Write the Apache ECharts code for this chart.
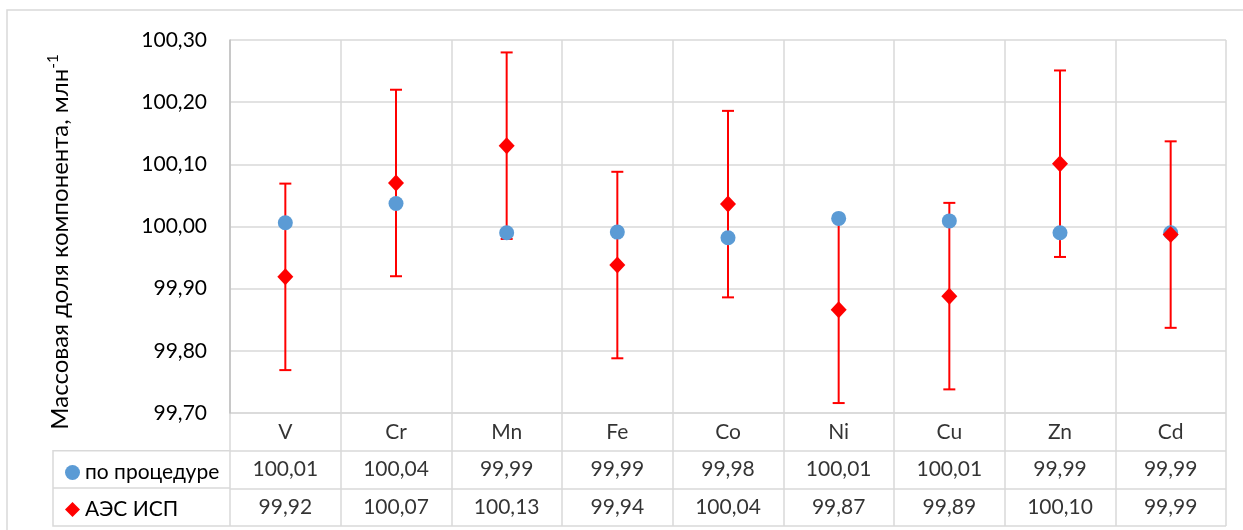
<!DOCTYPE html>
<html><head><meta charset="utf-8">
<script src="https://cdn.jsdelivr.net/npm/echarts@6/dist/echarts.min.js"></script>
<style>html,body{margin:0;padding:0;background:#fff}#c{width:1243px;height:530px}</style>
</head><body><div id="c"></div>
<script>
const categories = ['V','Cr','Mn','Fe','Co','Ni','Cu','Zn','Cd'];
const procedureValues = [100.006,100.037,99.990,99.991,99.982,100.013,100.009,99.990,99.990];
const icpValues = [99.919,100.070,100.130,99.938,100.036,99.866,99.888,100.101,99.987];
const icpErrors = [0.15,0.15,0.15,0.15,0.15,0.15,0.15,0.15,0.15];
const seriesNames = ['по процедуре','АЭС ИСП'];
const axisTitle = 'Массовая доля компонента, млн';
const axisTitleSup = '-1';
const yMin = 99.7, yMax = 100.3, yStep = 0.1;

const FONT = 'Lato';
const GRID = '#d9d9d9';
const fmt = v => v.toFixed(2).replace('.', ',');

const chart = echarts.init(document.getElementById('c'), null, {renderer:'canvas'});

const tableRows = [
  categories.map((c,i)=>[i,0.5,c]),
  procedureValues.map((v,i)=>[i,1.5,fmt(v)]),
  icpValues.map((v,i)=>[i,2.5,fmt(v)])
];

const option = {
  animation:false,
  textStyle:{fontFamily:FONT},
  grid:[
    {left:230,right:17,top:40,height:373},
    {left:230,right:17,top:413,height:113}
  ],
  xAxis:[
    {type:'category',gridIndex:0,data:categories,boundaryGap:true,
     axisLine:{show:false},axisTick:{show:false},axisLabel:{show:false},
     splitLine:{show:true,lineStyle:{color:GRID,width:1.5}}},
    {type:'category',gridIndex:1,data:categories,boundaryGap:true,
     axisLine:{show:false},axisTick:{show:false},axisLabel:{show:false},
     splitLine:{show:true,lineStyle:{color:GRID,width:1.5}}}
  ],
  yAxis:[
    {type:'value',gridIndex:0,min:yMin,max:yMax,interval:yStep,
     axisLine:{show:true,lineStyle:{color:'#bfbfbf',width:1.5}},axisTick:{show:false},
     axisLabel:{formatter:v=>fmt(v),fontSize:21,color:'#000',margin:23,fontFamily:FONT},
     splitLine:{show:true,lineStyle:{color:GRID,width:1.5}}},
    {type:'value',gridIndex:1,min:0,max:3,interval:1,inverse:true,
     axisLine:{show:false},axisTick:{show:false},axisLabel:{show:false},
     splitLine:{show:true,lineStyle:{color:GRID,width:1.5}}}
  ],
  legend:{
    orient:'vertical',left:60,top:457,itemGap:16,itemWidth:15,itemHeight:15,
    textStyle:{fontSize:21,color:'#000',fontFamily:FONT},
    data:[{name:seriesNames[0],icon:'circle'},{name:seriesNames[1],icon:'diamond'}]
  },
  graphic:[
    {type:'rect',shape:{x:7,y:10,width:1260,height:540},style:{fill:'none',stroke:GRID,lineWidth:1.5},silent:true},
    {type:'polyline',shape:{points:[[230,450.7],[53,450.7],[53,526],[230,526]]},style:{fill:'none',stroke:GRID,lineWidth:1.5},silent:true},
    {type:'line',shape:{x1:53,y1:488,x2:230,y2:488},style:{stroke:GRID,lineWidth:1.5},silent:true},
    {type:'text',x:60,y:242,rotation:Math.PI/2,
     style:{text:'{a|'+axisTitle+'}{b|'+axisTitleSup+'}',
       rich:{a:{fontSize:24,fontFamily:FONT,fill:'#000',lineHeight:28},
             b:{fontSize:15,fontFamily:FONT,fill:'#000',verticalAlign:'top',lineHeight:28,padding:[0,0,9,0]}},
       align:'center',verticalAlign:'middle'},silent:true}
  ],
  series:[
    {type:'custom',name:'err',xAxisIndex:0,yAxisIndex:0,z:1,silent:true,
     data:icpValues.map((v,i)=>[i,v-icpErrors[i],v+icpErrors[i]]),
     encode:{x:0,y:[1,2]},
     renderItem:function(params,api){
       const lo=api.coord([api.value(0),api.value(1)]);
       const hi=api.coord([api.value(0),api.value(2)]);
       const w=6;
       const st={stroke:'#ff0000',lineWidth:2};
       return {type:'group',children:[
         {type:'line',z2:0,shape:{x1:lo[0],y1:lo[1],x2:hi[0],y2:hi[1]},style:st},
         {type:'line',z2:0,shape:{x1:lo[0]-w,y1:lo[1],x2:lo[0]+w,y2:lo[1]},style:st},
         {type:'line',z2:0,shape:{x1:hi[0]-w,y1:hi[1],x2:hi[0]+w,y2:hi[1]},style:st}
       ]};
     }},
    {type:'scatter',name:seriesNames[0],xAxisIndex:0,yAxisIndex:0,z:5,
     symbol:'circle',symbolSize:15,itemStyle:{color:'#5b9bd5',opacity:1},data:procedureValues},
    {type:'scatter',name:seriesNames[1],xAxisIndex:0,yAxisIndex:0,z:6,
     symbol:'diamond',symbolSize:[16,17],itemStyle:{color:'#ff0000',opacity:1},data:icpValues},
    ...tableRows.map((row,k)=>({
      type:'scatter',name:'row'+k,xAxisIndex:1,yAxisIndex:1,silent:true,
      symbolSize:1,itemStyle:{color:'rgba(0,0,0,0)'},
      label:{show:true,position:'inside',formatter:p=>p.data[2],fontSize:21,color:'#000',fontFamily:FONT},
      data:row
    }))
  ]
};
chart.setOption(option);
</script></body></html>
